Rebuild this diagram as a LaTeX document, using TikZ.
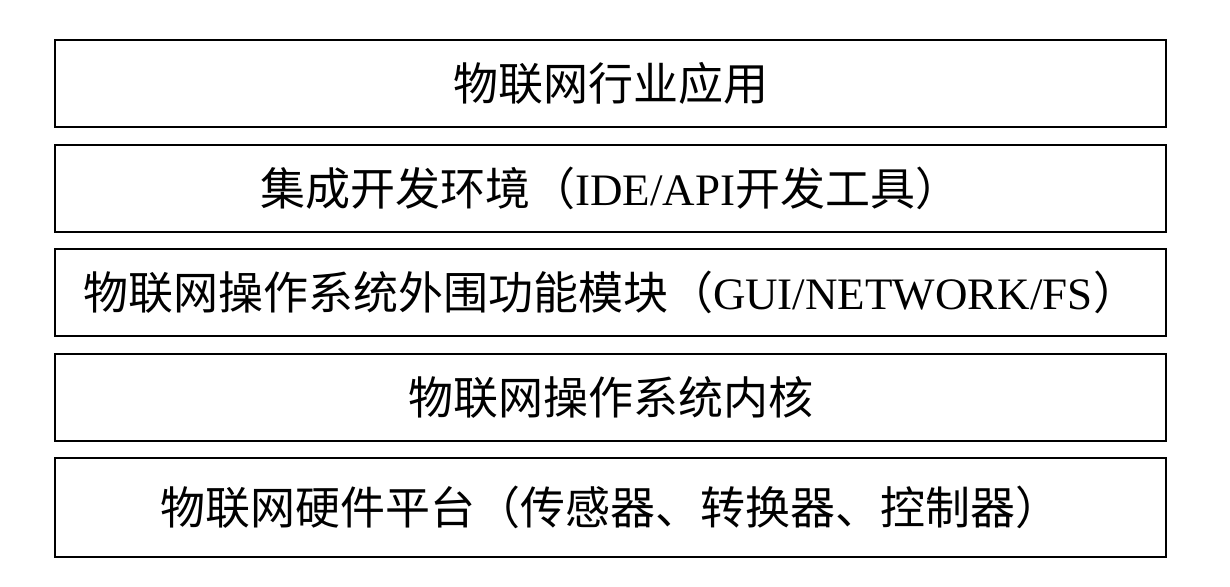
\documentclass[tikz,border=0pt]{standalone}
\usepackage{fontspec}
\setmainfont{Liberation Serif}
\newfontfamily\cjk{Noto Sans CJK SC}
\usetikzlibrary{positioning}

\begin{document}
\begin{tikzpicture}[x=1pt,y=-1pt,node distance=15.5pt,font=\fontsize{45}{50}\selectfont]
  \tikzset{layer/.style={draw,line width=2pt,minimum width=1111pt,minimum height=87pt,inner sep=0pt,align=center}}
  \useasboundingbox (0,0) rectangle (1230,586);
  % layers, top to bottom
  \node[layer,anchor=north west] (app) at (54,39) {\cjk 物联网行业应用};
  \node[layer,below=of app] (ide)
    {\cjk 集成开发环境（\normalfont IDE/API\cjk 开发工具）};
  \node[layer,below=of ide] (ext)
    {\cjk 物联网操作系统外围功能模块（\normalfont GUI/NETWORK/FS\cjk ）};
  \node[layer,below=of ext] (kern) {\cjk 物联网操作系统内核};
  \node[layer,minimum height=99pt,below=of kern] (hw)
    {\cjk 物联网硬件平台（传感器、转换器、控制器）};
\end{tikzpicture}
\end{document}
